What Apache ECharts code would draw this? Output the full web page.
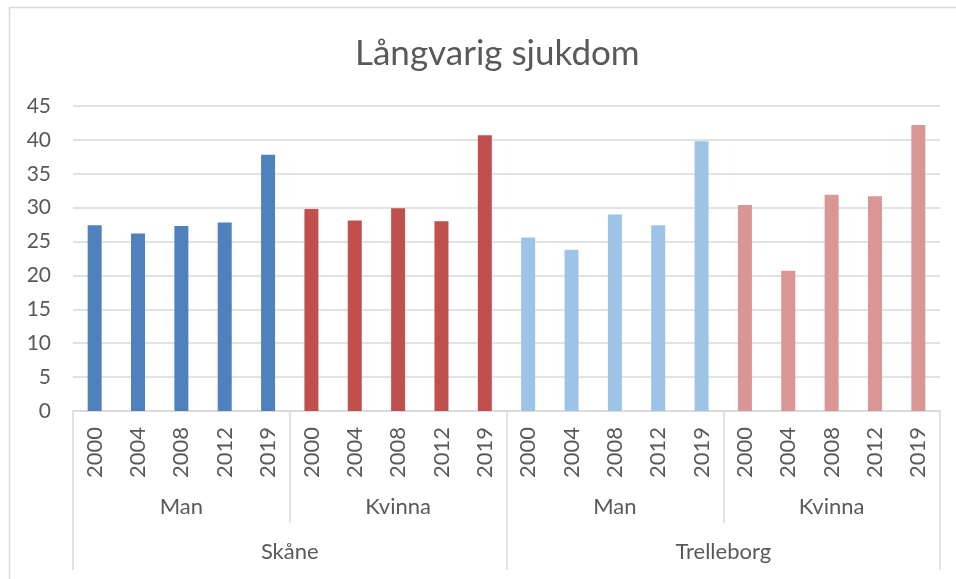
<!DOCTYPE html>
<html>
<head>
<meta charset="utf-8">
<script src="https://cdn.jsdelivr.net/npm/echarts@6/dist/echarts.min.js"></script>
<style>
html,body{margin:0;padding:0;background:#fff;}
#main{width:956px;height:579px;}
</style>
</head>
<body>
<div id="main"></div>
<script>
var years = ['2000','2004','2008','2012','2019'];
var kon_namn = ['Man','Kvinna','Man','Kvinna'];
var omrade_namn = ['Skåne','Trelleborg'];

var skane_man = [27.4, 26.2, 27.3, 27.8, 37.8];
var skane_kvinna = [29.8, 28.1, 29.9, 28.0, 40.7];
var trelleborg_man = [25.6, 23.8, 29.0, 27.4, 39.8];
var trelleborg_kvinna = [30.4, 20.7, 31.9, 31.7, 42.2];

var grupp_farg = ['#4F81BD', '#C0504D', '#9DC3E6', '#DA9694'];

var text_farg = '#595959';
var linje_farg = '#D9D9D9';
var font = 'Lato';

// bygg upp kategorier och staplar
var kategorier = [];
var staplar = [];
var grupper = [skane_man, skane_kvinna, trelleborg_man, trelleborg_kvinna];
for (var g = 0; g < grupper.length; g++) {
	for (var i = 0; i < years.length; i++) {
		kategorier.push(g + '_' + years[i]);
		staplar.push({
			value: grupper[g][i],
			itemStyle: {color: grupp_farg[g]}
		});
	}
}
var kon_kat = kon_namn.map(function(n, i){ return i + '_' + n; });
var omr_kat = omrade_namn.map(function(n, i){ return i + '_' + n; });

function bara_namn(v){ return v.split('_')[1]; }

var myChart = echarts.init(document.getElementById('main'), null, {renderer: 'canvas'});
myChart.setOption({
	animation: false,
	textStyle: {fontFamily: font},
	title: {
		text: 'Långvarig sjukdom',
		left: 350,
		top: 31,
		textStyle: {fontFamily: font, fontSize: 35, fontWeight: 'normal', color: text_farg}
	},
	graphic: [{
		type: 'rect',
		shape: {x: 9.5, y: 7.5, width: 960, height: 600},
		style: {fill: null, stroke: linje_farg, lineWidth: 1.5},
		silent: true,
		z: -1
	}],
	grid: {left: 73, right: 16, top: 106, bottom: 168},
	xAxis: [
		{
			type: 'category',
			data: kategorier,
			position: 'bottom',
			axisLine: {show: true, lineStyle: {color: linje_farg, width: 1.5}},
			axisTick: {
				show: true,
				length: 112,
				interval: function(idx){ return idx % 5 === 0; },
				lineStyle: {color: linje_farg, width: 1.5}
			},
			axisLabel: {
				rotate: 90,
				margin: 16,
				interval: 0,
				fontSize: 22,
				color: text_farg,
				formatter: bara_namn
			}
		},
		{
			type: 'category',
			data: kon_kat,
			position: 'bottom',
			axisLine: {show: false},
			axisTick: {show: false},
			axisLabel: {
				margin: 85,
				interval: 0,
				fontSize: 22,
				color: text_farg,
				formatter: bara_namn
			}
		},
		{
			type: 'category',
			data: omr_kat,
			position: 'bottom',
			offset: 112,
			axisLine: {show: false},
			axisTick: {show: true, length: 47, lineStyle: {color: linje_farg, width: 1.5}},
			axisLabel: {
				margin: 18,
				interval: 0,
				fontSize: 22,
				color: text_farg,
				formatter: bara_namn
			}
		}
	],
	yAxis: {
		type: 'value',
		min: 0,
		max: 45,
		interval: 5,
		axisLine: {show: false},
		axisTick: {show: false},
		axisLabel: {fontSize: 21, color: text_farg, margin: 22},
		splitLine: {lineStyle: {color: linje_farg, width: 1.5}}
	},
	series: [{
		type: 'bar',
		xAxisIndex: 0,
		data: staplar,
		barWidth: 14
	}]
});
</script>
</body>
</html>
